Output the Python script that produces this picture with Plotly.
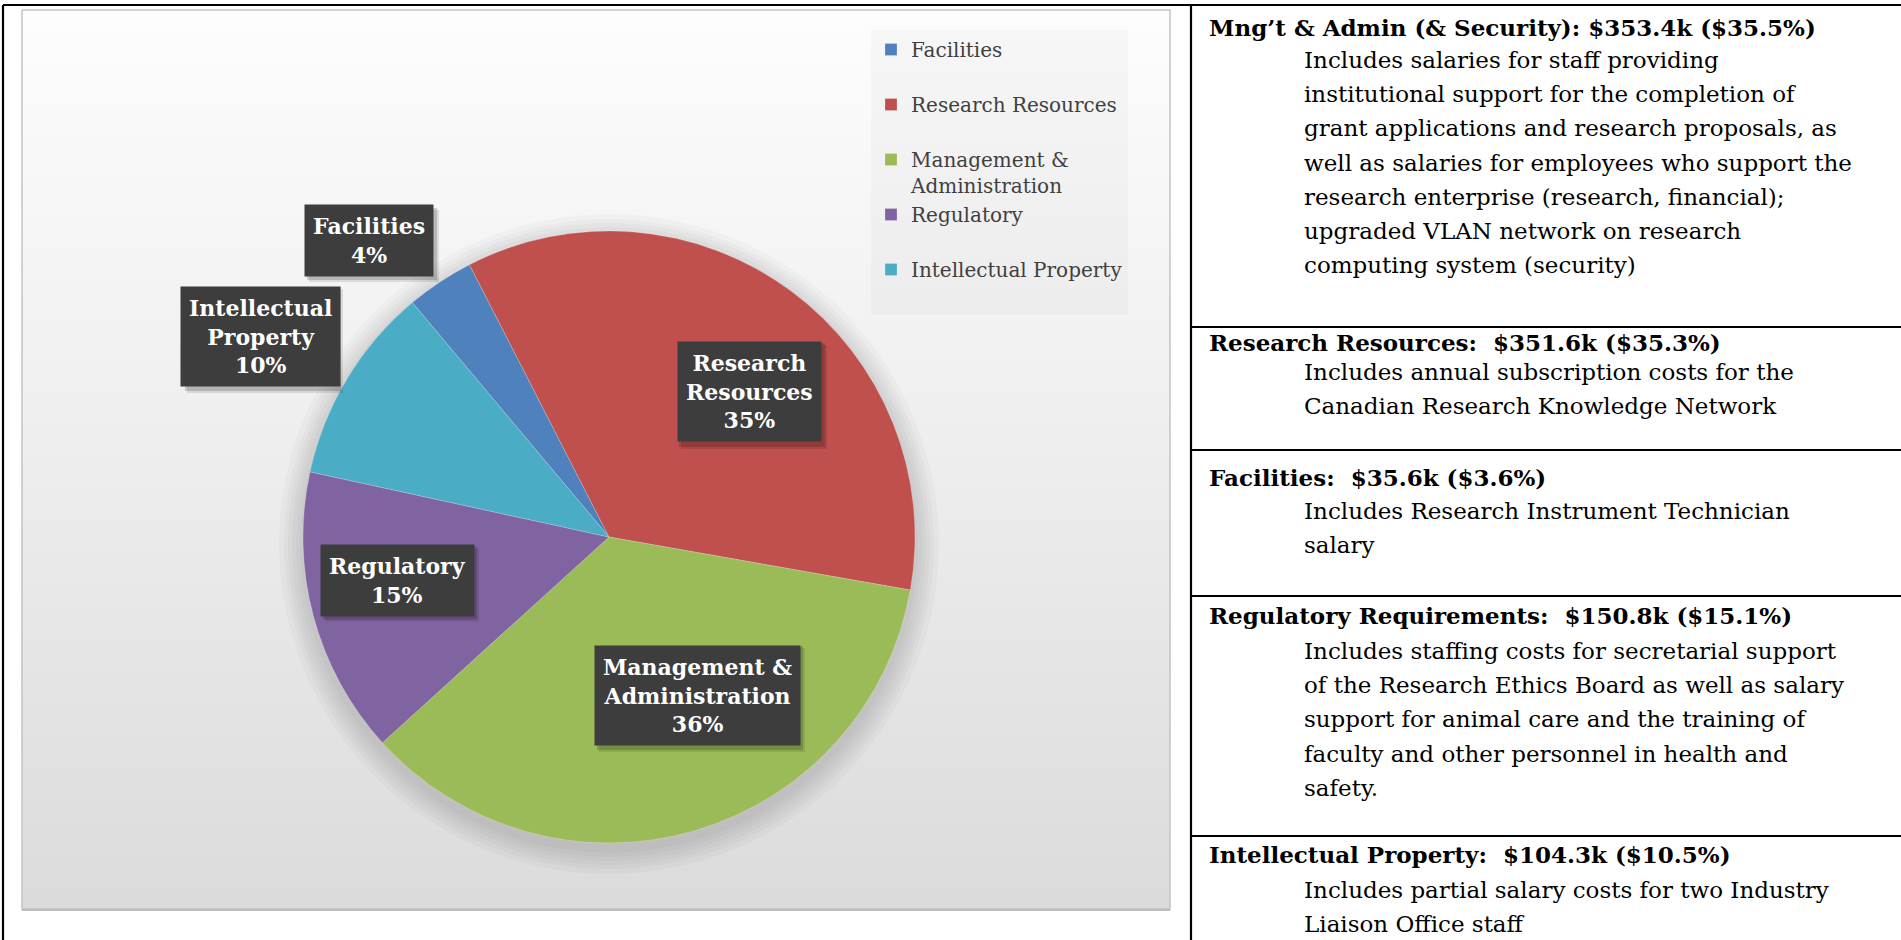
import numpy as np
import plotly.graph_objects as go

# ---------------- data ----------------
categories = ["Facilities", "Research Resources", "Management & Administration",
              "Regulatory", "Intellectual Property"]
values_k = [35.6, 351.6, 353.4, 150.8, 104.3]
pct_labels = ["4%", "35%", "36%", "15%", "10%"]
colors = ["#4F81BD", "#C0504D", "#9BBB59", "#8064A2", "#4BACC6"]

# how the names wrap in the chart
label_lines = [["Facilities"], ["Research", "Resources"], ["Management &", "Administration"],
               ["Regulatory"], ["Intellectual", "Property"]]
legend_lines = [["Facilities"], ["Research Resources"], ["Management &", "Administration"],
                ["Regulatory"], ["Intellectual Property"]]

table_names = ["Mng\u2019t & Admin (& Security)", "Research Resources", "Facilities",
               "Regulatory Requirements", "Intellectual Property"]
table_amounts = [353.4, 351.6, 35.6, 150.8, 104.3]
table_shares = [35.5, 35.3, 3.6, 15.1, 10.5]
table_seps = [" ", "\u00a0 ", "\u00a0 ", "\u00a0 ", "\u00a0 "]
table_desc = [
    ["Includes salaries for staff providing",
     "institutional support for the completion of",
     "grant applications and research proposals, as",
     "well as salaries for employees who support the",
     "research enterprise (research, financial);",
     "upgraded VLAN network on research",
     "computing system (security)"],
    ["Includes annual subscription costs for the",
     "Canadian Research Knowledge Network"],
    ["Includes Research Instrument Technician",
     "salary"],
    ["Includes staffing costs for secretarial support",
     "of the Research Ethics Board as well as salary",
     "support for animal care and the training of",
     "faculty and other personnel in health and",
     "safety."],
    ["Includes partial salary costs for two Industry",
     "Liaison Office staff"],
]

# ---------------- layout constants (pixels) ----------------
W, H = 1901, 940
FONT = "DejaVu Serif"
box_x0, box_x1, box_y0, box_y1 = 22, 1170, 10, 909
pie_cx, pie_cy, pie_r = 609, 537, 306
label_centers = [(369, 241), (749, 392), (697, 695), (397, 580), (260, 336)]
label_box_sizes = [(130, 72), (146, 104), (206, 104), (154, 73), (156, 104)]
row_tops = [5, 327, 450, 596, 836]
header_y = [27, 342, 477, 615, 854]
body_y0 = [60, 372, 511, 651, 890]
body_step = 34.2
header_x, body_x = 1207, 1302


def px(x):
    return x / W


def py(y):
    return 1 - y / H


fig = go.Figure()

# chart area background with vertical gradient
fig.add_trace(go.Scatter(
    x=[box_x0, box_x1, box_x1, box_x0, box_x0],
    y=[box_y0, box_y0, box_y1, box_y1, box_y0],
    mode="lines", fill="toself", fillcolor="#ececec",
    fillgradient=dict(type="vertical", start=box_y0, stop=box_y1,
                      colorscale=[[0, "#fdfdfd"], [0.45, "#efefef"], [1, "#dbdbdb"]]),
    line=dict(color="#c4c4c4", width=1.5),
    hoverinfo="skip", showlegend=False))

# soft shadow under the pie
t = np.linspace(0, 2 * np.pi, 181)
for d in [3, 7, 11, 15, 19, 24]:
    fig.add_trace(go.Scatter(
        x=pie_cx + (pie_r + d) * np.cos(t), y=pie_cy + 7 + (pie_r + d) * np.sin(t),
        mode="lines", fill="toself", fillcolor="rgba(0,0,0,0.022)",
        line=dict(width=0), hoverinfo="skip", showlegend=False))

# pie
legend_text = ["<br>".join(l if len(l) > 1 else l + ["\u00a0"]) for l in legend_lines]
fig.add_trace(go.Pie(
    labels=legend_text, values=values_k, sort=False, direction="clockwise",
    rotation=-40, textinfo="none", hoverinfo="label+value",
    marker=dict(colors=colors, line=dict(color="rgba(255,255,255,0.35)", width=0.6)),
    domain=dict(x=[px(pie_cx - pie_r), px(pie_cx + pie_r)],
                y=[py(pie_cy + pie_r), py(pie_cy - pie_r)]),
    showlegend=True))

annotations = []
shapes = []
# data labels (with a soft drop shadow behind each box)
for lines, pct, (cx, cy), (bw, bh) in zip(label_lines, pct_labels, label_centers, label_box_sizes):
    for off, alpha in [(5, 0.10), (3, 0.16)]:
        shapes.append(dict(type="rect", xref="paper", yref="paper", layer="above",
                           x0=px(cx - bw / 2 + off), x1=px(cx + bw / 2 + off),
                           y0=py(cy + bh / 2 + off), y1=py(cy - bh / 2 + off),
                           fillcolor=f"rgba(0,0,0,{alpha})", line=dict(width=0)))
    annotations.append(dict(
        x=px(cx), y=py(cy), xref="paper", yref="paper", showarrow=False,
        text="<br>".join(lines + [pct]), align="center",
        font=dict(family=FONT, size=22, color="white", weight="bold"),
        bgcolor="#3d3d3d", borderpad=8, xanchor="center", yanchor="middle"))

# description table text
for name, amt, share, sep, desc, hy, by in zip(table_names, table_amounts, table_shares,
                                              table_seps, table_desc, header_y, body_y0):
    annotations.append(dict(
        x=px(header_x), y=py(hy), xref="paper", yref="paper", showarrow=False,
        text=f"<b>{name}:{sep}${amt}k (${share}%)</b>",
        font=dict(family=FONT, size=23, color="black"),
        xanchor="left", yanchor="middle"))
    for k, line in enumerate(desc):
        annotations.append(dict(
            x=px(body_x), y=py(by + body_step * k),
            xref="paper", yref="paper", showarrow=False, text=line,
            font=dict(family=FONT, size=23, color="black"),
            xanchor="left", yanchor="middle"))

lw = 2.2
shapes.append(dict(type="line", xref="paper", yref="paper", x0=px(3), x1=1, y0=py(5), y1=py(5),
                   line=dict(color="black", width=lw)))
shapes.append(dict(type="line", xref="paper", yref="paper", x0=px(3), x1=px(3), y0=py(5), y1=0,
                   line=dict(color="black", width=lw)))
shapes.append(dict(type="line", xref="paper", yref="paper", x0=px(1191), x1=px(1191), y0=py(5), y1=0,
                   line=dict(color="black", width=lw)))
for rt in row_tops[1:]:
    shapes.append(dict(type="line", xref="paper", yref="paper", x0=px(1191), x1=1,
                       y0=py(rt), y1=py(rt), line=dict(color="black", width=lw)))
# bottom shadow edge of chart area
shapes.append(dict(type="line", xref="paper", yref="paper", x0=px(box_x0), x1=px(box_x1),
                   y0=py(box_y1 + 1), y1=py(box_y1 + 1), line=dict(color="#bdbdbd", width=2)))

fig.update_layout(
    width=W, height=H, margin=dict(l=0, r=0, t=0, b=0),
    paper_bgcolor="white", plot_bgcolor="rgba(0,0,0,0)",
    xaxis=dict(range=[0, W], visible=False, fixedrange=True),
    yaxis=dict(range=[H, 0], visible=False, fixedrange=True),
    showlegend=True,
    legend=dict(x=px(871), y=py(30), xanchor="left", yanchor="top",
                bgcolor="rgba(0,0,0,0.025)", valign="top",
                font=dict(family=FONT, size=20, color="#404040"),
                itemclick=False, itemdoubleclick=False),
    annotations=annotations, shapes=shapes,
)

fig.write_html("out.html", config={"displayModeBar": False},
               post_script="document.body.style.margin='0';document.body.style.overflow='hidden';")
